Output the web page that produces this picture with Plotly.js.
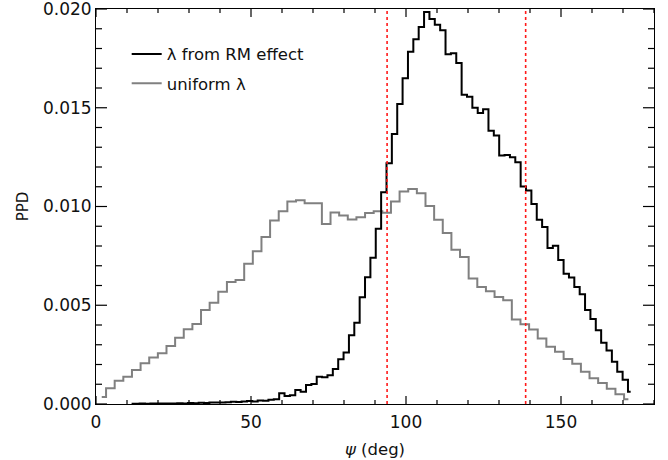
<!DOCTYPE html>
<html>
<head>
<meta charset="utf-8">
<script src="https://cdn.plot.ly/plotly-3.0.1.min.js"></script>
<style>
  html, body { margin: 0; padding: 0; background: #fff; }
  #chart { width: 668px; height: 460px; }
</style>
</head>
<body>
<div id="chart"></div>
<script>
// PPD of psi. Histograms are stored as bin centres (deg).
var rmStart = 11.48, rmWidth = 1.7311;
var rmPPD = [
  0.00001, 0.00001, 0.00002, 0.00001, 0.00002, 0.00002, 0.00003, 0.00002, 0.00003, 0.00004,
  0.00003, 0.00005, 0.00004, 0.00006, 0.00005, 0.00007, 0.00008, 0.00007, 0.00009, 0.00011,
  0.00010, 0.00013, 0.00015, 0.00013, 0.00018, 0.00016, 0.00022, 0.00024, 0.00054, 0.00040,
  0.00044, 0.00071, 0.00062, 0.00096, 0.00101, 0.00138, 0.00135, 0.00145, 0.00177, 0.00226,
  0.00261, 0.00348, 0.00411, 0.00540, 0.00642, 0.00740, 0.00887, 0.01072, 0.01219, 0.01367,
  0.01519, 0.01650, 0.01784, 0.01847, 0.01909, 0.01985, 0.01950, 0.01920, 0.01892, 0.01771,
  0.01776, 0.01726, 0.01566, 0.01556, 0.01500, 0.01473, 0.01493, 0.01384, 0.01359, 0.01258,
  0.01261, 0.01249, 0.01224, 0.01101, 0.01081, 0.01013, 0.00933, 0.00896, 0.00790, 0.00801,
  0.00729, 0.00660, 0.00640, 0.00593, 0.00556, 0.00476, 0.00430, 0.00374, 0.00310, 0.00271,
  0.00214, 0.00163, 0.00123, 0.00062
];

var uniStart = 1.85, uniWidth = 2.785;
var uniPPD = [
  0.00036, 0.00080, 0.00118, 0.00138, 0.00172, 0.00206, 0.00235, 0.00257, 0.00294, 0.00336,
  0.00379, 0.00405, 0.00476, 0.00513, 0.00568, 0.00618, 0.00628, 0.00710, 0.00774, 0.00845,
  0.00929, 0.00976, 0.01025, 0.01032, 0.01017, 0.01017, 0.00912, 0.00970, 0.00955, 0.00934,
  0.00946, 0.00967, 0.00976, 0.00968, 0.01025, 0.01076, 0.01089, 0.01067, 0.01002, 0.00933,
  0.00866, 0.00781, 0.00744, 0.00635, 0.00593, 0.00571, 0.00542, 0.00525, 0.00428, 0.00404,
  0.00377, 0.00332, 0.00290, 0.00264, 0.00228, 0.00204, 0.00163, 0.00130, 0.00106, 0.00077,
  0.00049, 0.00024
];

// dotted limits
var psiLimits = [93.9, 138.6];

var seriesNames = ['\u03bb from RM effect', 'uniform \u03bb'];

var xRange = [0, 180], yRange = [0, 0.02];
var xMajor = 50, xMinor = 10, yMajor = 0.005, yMinor = 0.001;

function centres(start, width, n) {
  var out = [];
  for (var i = 0; i < n; i++) out.push(start + i * width);
  return out;
}

var font = 'DejaVu Sans, Arial, sans-serif';
var W = 668, H = 460, M = { l: 96, r: 14, t: 9, b: 56 };
var plotW = W - M.l - M.r, plotH = H - M.t - M.b;

var traceUni = {
  x: centres(uniStart, uniWidth, uniPPD.length),
  y: uniPPD,
  mode: 'lines',
  line: { shape: 'hvh', color: '#808080', width: 2 },
  name: seriesNames[1],
  legendgroup: 'uni',
  legendrank: 2,
  hoverinfo: 'skip'
};

var traceRM = {
  x: centres(rmStart, rmWidth, rmPPD.length),
  y: rmPPD,
  mode: 'lines',
  line: { shape: 'hvh', color: '#000000', width: 2 },
  name: seriesNames[0],
  legendgroup: 'rm',
  legendrank: 1,
  hoverinfo: 'skip'
};

var shapes = psiLimits.map(function(v) {
  return {
    type: 'line', xref: 'x', yref: 'paper',
    x0: v, x1: v, y0: 0, y1: 1,
    line: { color: '#ff1a1a', width: 1.6, dash: 'dot' }
  };
});

// inside ticks on all four sides, IDL style. The axis ticks themselves would not
// show up in this build, so they are drawn as short lines on the axis scales.
function isMajor(v, step) {
  var r = v / step;
  return Math.abs(r - Math.round(r)) < 1e-6;
}
var tickStyle = { color: '#000', width: 1.2 };
var nx = Math.round((xRange[1] - xRange[0]) / xMinor);
for (var i = 0; i <= nx; i++) {
  var xv = xRange[0] + i * xMinor;
  var lx = (isMajor(xv, xMajor) ? 8 : 4) / plotH;
  shapes.push({ type: 'line', xref: 'x', yref: 'paper', x0: xv, x1: xv, y0: 0, y1: lx, line: tickStyle });
  shapes.push({ type: 'line', xref: 'x', yref: 'paper', x0: xv, x1: xv, y0: 1 - lx, y1: 1, line: tickStyle });
}
var ny = Math.round((yRange[1] - yRange[0]) / yMinor);
for (var j = 0; j <= ny; j++) {
  var yv = yRange[0] + j * yMinor;
  var ly = (isMajor(yv, yMajor) ? 11 : 6) / plotW;
  shapes.push({ type: 'line', xref: 'paper', yref: 'y', x0: 0, x1: ly, y0: yv, y1: yv, line: tickStyle });
  shapes.push({ type: 'line', xref: 'paper', yref: 'y', x0: 1 - ly, x1: 1, y0: yv, y1: yv, line: tickStyle });
}

var layout = {
  width: W, height: H,
  margin: M,
  paper_bgcolor: '#fff', plot_bgcolor: '#fff',
  font: { family: font, size: 17, color: '#111' },
  showlegend: true,
  legend: {
    x: 0.055, y: 0.93, xanchor: 'left', yanchor: 'top',
    bgcolor: 'rgba(0,0,0,0)', borderwidth: 0,
    font: { family: font, size: 16.5, color: '#111' },
    tracegroupgap: 5
  },
  xaxis: {
    range: xRange, dtick: xMajor, ticks: '',
    showline: true, linecolor: '#000', mirror: true,
    showgrid: false, zeroline: false,
    ticklabelstandoff: 3,
    title: { text: '<i>\u03c8</i> (deg)', font: { family: font, size: 16.5 }, standoff: 12 }
  },
  yaxis: {
    range: yRange, dtick: yMajor, tickformat: '.3f', ticks: '',
    showline: true, linecolor: '#000', mirror: true,
    showgrid: false, zeroline: false,
    ticklabeloverflow: 'allow',
    title: { text: 'PPD', font: { family: font, size: 15 }, standoff: 10 }
  },
  shapes: shapes
};

Plotly.newPlot('chart', [traceUni, traceRM], layout, { staticPlot: true });
</script>
</body>
</html>
